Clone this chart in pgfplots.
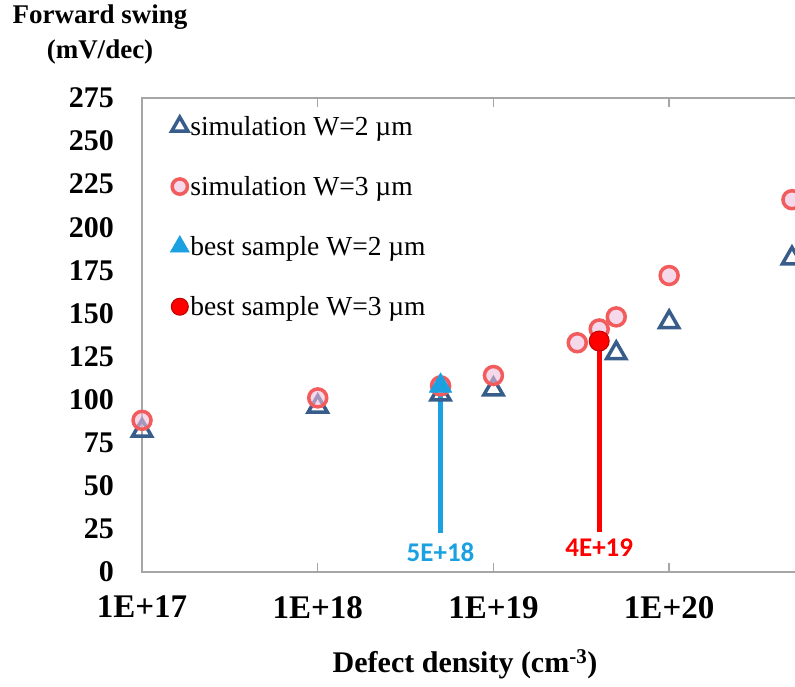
\documentclass[border=0pt]{standalone}
\usepackage{fontspec}
\setmainfont{Liberation Serif}
\newfontfamily\calibri{Carlito}
\usepackage{pgfplots}
\pgfplotsset{compat=1.18}

\definecolor{simtwo}{RGB}{56,93,138}
\definecolor{simthree}{RGB}{242,92,92}
\definecolor{simfill}{RGB}{238,190,220}
\definecolor{besttwo}{RGB}{27,161,226}
\definecolor{bestthree}{RGB}{255,0,0}
\definecolor{bestthreeedge}{RGB}{190,0,0}
\definecolor{axisgray}{RGB}{166,166,166}

\begin{document}
\begin{tikzpicture}[x=1pt,y=1pt]
\path[use as bounding box] (0,0) rectangle (795,686);
\clip (0,0) rectangle (795,686);

% y-axis title (two lines) and x-axis title
\node[font=\fontsize{27}{35}\selectfont\bfseries, align=center] at (100,651) {Forward swing\\(mV/dec)};
\node[font=\fontsize{30}{30}\selectfont\bfseries] at (465,22) {Defect density (cm\textsuperscript{-3})};

\begin{axis}[
  at={(142pt,114pt)}, anchor=south west,
  scale only axis, width=702.8pt, height=474pt,
  xmode=log, xmin=1e17, xmax=1e21, ymin=0, ymax=275,
  xtick={1e17,1e18,1e19,1e20},
  xticklabels={1E+17,1E+18,1E+19,1E+20},
  xminorticks=false,
  ytick={0,25,...,275},
  /pgf/number format/assume math mode=true,
  axis line style={draw=axisgray, line width=1.5pt},
  xtick style={draw=axisgray, line width=1.5pt},
  ytick style={draw=none},
  xtick align=inside, major tick length=9pt,
  yticklabel style={anchor=east, inner sep=0pt, xshift=-28pt, font=\fontsize{30}{30}\selectfont\bfseries},
  xticklabel style={anchor=north, inner sep=0pt, yshift=-24pt, font=\fontsize{33}{33}\selectfont\bfseries},
  legend style={at={(0,1)}, anchor=north west, xshift=28pt, yshift=-17pt,
    draw=none, fill=none, inner sep=0pt, row sep=37.5pt,
    font=\fontsize{27.5}{27.5}\selectfont,
    nodes={inner sep=1pt},
    /tikz/every even column/.append style={column sep=6pt}},
  legend cell align=left,
  legend image code/.code={%
    \draw[mark repeat=2,mark phase=2,#1] plot coordinates {(0pt,0pt) (10pt,0pt) (20pt,0pt)};},
  legend image post style={every mark/.append style={scale=0.85}},
]

% simulation, W = 2 um
\addplot[only marks, mark=triangle, mark size=11pt,
  mark options={draw=simtwo, line width=3.5pt}]
  coordinates {(1e17,82) (1e18,96) (5e18,103) (1e19,106) (5e19,127) (1e20,145) (5e20,182)};
\addlegendentry{simulation W=2~µm}

% simulation, W = 3 um
\addplot[only marks, mark=*, mark size=9pt,
  mark options={draw=simthree, fill=simfill, fill opacity=0.6, line width=3.5pt}]
  coordinates {(1e17,88) (1e18,101) (5e18,108) (1e19,114) (3e19,133) (4e19,141) (5e19,148) (1e20,172) (5e20,216)};
\addlegendentry{simulation W=3~µm}

% best sample, W = 2 um: arrow shaft then head
\addplot[forget plot, draw=besttwo, line width=5pt] coordinates {(5e18,22.6) (5e18,104)};
\addplot[only marks, mark=triangle*, mark size=13pt,
  mark options={draw=besttwo, fill=besttwo, line width=0.5pt}]
  coordinates {(5e18,108)};
\addlegendentry{best sample W=2~µm}

% best sample, W = 3 um: stem then point
\addplot[forget plot, draw=bestthree, line width=5pt] coordinates {(4e19,23) (4e19,133)};
\addplot[only marks, mark=*, mark size=10pt,
  mark options={draw=bestthreeedge, fill=bestthree, line width=1pt}]
  coordinates {(4e19,134)};
\addlegendentry{best sample W=3~µm}

\node[font=\calibri\bfseries\fontsize{27}{27}\selectfont, text=besttwo] at (axis cs:5e18,11.6) {5E+18};
\node[font=\calibri\bfseries\fontsize{27}{27}\selectfont, text=bestthree] at (axis cs:4e19,14) {4E+19};
\end{axis}
\end{tikzpicture}
\end{document}
